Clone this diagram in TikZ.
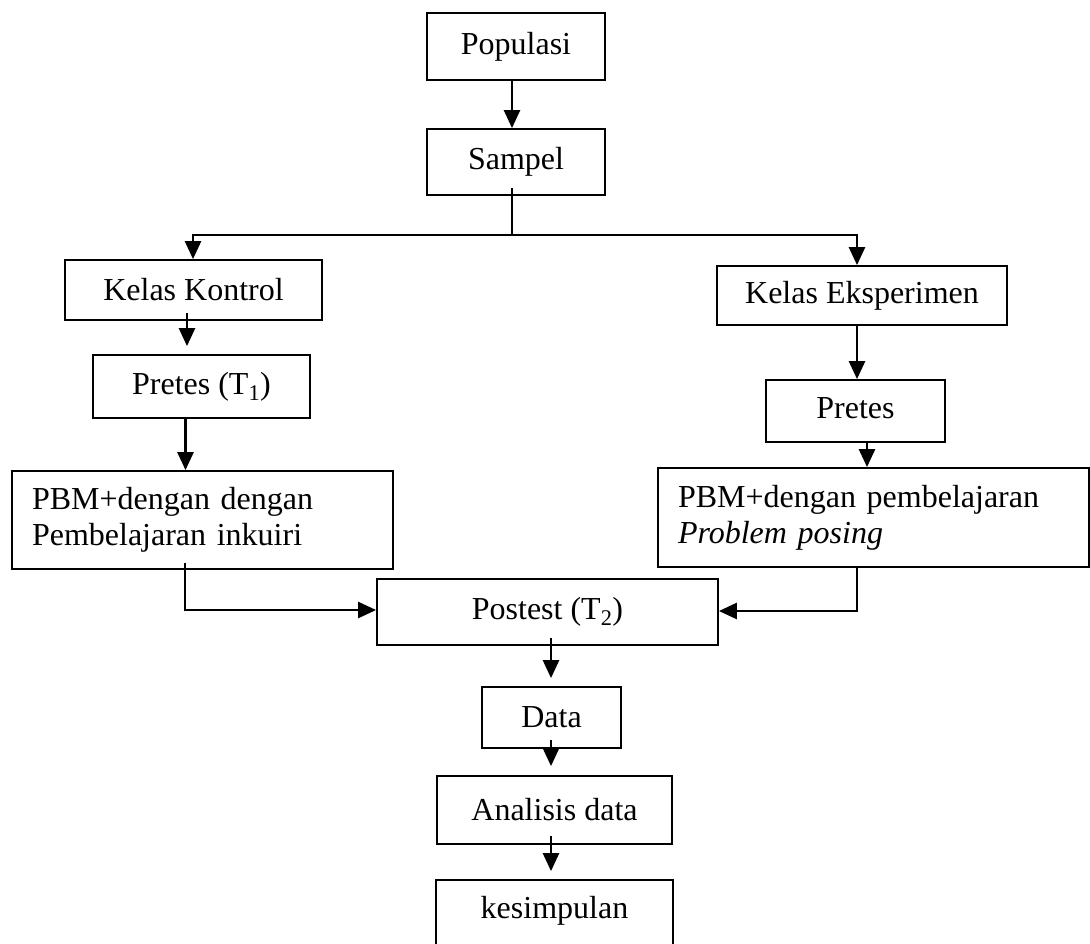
\documentclass[tikz,border=0pt]{standalone}
\usepackage{fontspec}
\setmainfont{Liberation Serif}
\usetikzlibrary{arrows.meta,calc}
\begin{document}
\begin{tikzpicture}[x=1pt,y=-1pt,
  box/.style={draw,line width=1.8pt,inner sep=0pt,font=\fontsize{32}{36}\selectfont},
  lbox/.style={box,align=left,inner xsep=20pt},
  conn/.style={line width=2.6pt},
  arr/.style={conn,-{Triangle[length=18pt,width=16pt]}}]
\useasboundingbox (0,0) rectangle (1090,943);
\clip (0,0) rectangle (1090,943);
% boxes
\node[box,minimum width=178pt,minimum height=67pt] (pop) at (516,46.5) {Populasi};
\node[box,minimum width=178pt,minimum height=66pt] (samp) at (516,162) {Sampel};
\node[box,minimum width=257pt,minimum height=60pt] (kk) at (193.5,290) {Kelas Kontrol};
\node[box,minimum width=290pt,minimum height=59pt] (ke) at (862,295.5) {Kelas Eksperimen};
\node[box,minimum width=217pt,minimum height=63pt] (pt1) at (201.5,386.5) {Pretes (T\textsubscript{1})};
\node[box,minimum width=179pt,minimum height=62pt] (pt2) at (855.5,411) {\raisebox{6pt}{Pretes}};
\node[lbox,minimum width=381pt,minimum height=98pt,text width=341pt] (pbl) at (202.5,520) {PBM+dengan dengan\\Pembelajaran inkuiri};
\node[lbox,minimum width=429pt,minimum height=99pt,text width=391pt] (pbr) at (873.5,517.5) {PBM+dengan pembelajaran\\\textit{Problem posing}};
\node[box,minimum width=341pt,minimum height=66pt] (post) at (547.5,612) {Postest (T\textsubscript{2})};
\node[box,minimum width=139pt,minimum height=61pt] (data) at (551.5,717.5) {Data};
\node[box,minimum width=235pt,minimum height=68pt] (ana) at (554.5,810) {Analisis data};
\node[box,draw=none,minimum width=235pt,minimum height=60pt] (kes) at (554.5,911) {kesimpulan};
\draw[line width=1.8pt] ([yshift=-10pt]kes.south west) -- (kes.north west) -- (kes.north east) -- ([yshift=-10pt]kes.south east);
% connectors
\coordinate (br) at (512,235);
\draw[arr] ([xshift=-4pt]pop.south) -- ([xshift=-4pt]samp.north);
\draw[conn] ([xshift=-4pt,yshift=8pt]samp.south) -- (br);
\draw[arr] (br) -| ([xshift=-0.5pt]kk.north);
\draw[arr] (br) -| ([xshift=-5pt]ke.north);
\draw[arr] ([xshift=-6.5pt,yshift=8pt]kk.south) -- ([xshift=-6.5pt,yshift=8pt]kk.south |- pt1.north);
\draw[arr] ([xshift=-16pt]pt1.south) -- ([xshift=-16pt]pt1.south |- pbl.north);
\draw[arr] ([xshift=-5pt]ke.south) -- ([xshift=-5pt]ke.south |- pt2.north);
\draw[arr] ([xshift=11.5pt]pt2.south) -- ([xshift=11.5pt]pt2.south |- pbr.north);
\draw[arr] ([xshift=-17.5pt,yshift=7pt]pbl.south) |- ([yshift=2pt]post.west);
\draw[arr] ([xshift=-16.5pt]pbr.south) |- ([yshift=1pt]post.east);
\draw[arr] ([xshift=3.5pt,yshift=8pt]post.south) -- ([xshift=3.5pt,yshift=8pt]post.south |- data.north);
\draw[arr] ([xshift=-0.5pt,yshift=9pt]data.south) -- ([xshift=-0.5pt,yshift=9pt]data.south |- ana.north);
\draw[arr] ([xshift=-3.5pt,yshift=9pt]ana.south) -- ([xshift=-3.5pt,yshift=9pt]ana.south |- kes.north);
\end{tikzpicture}
\end{document}
